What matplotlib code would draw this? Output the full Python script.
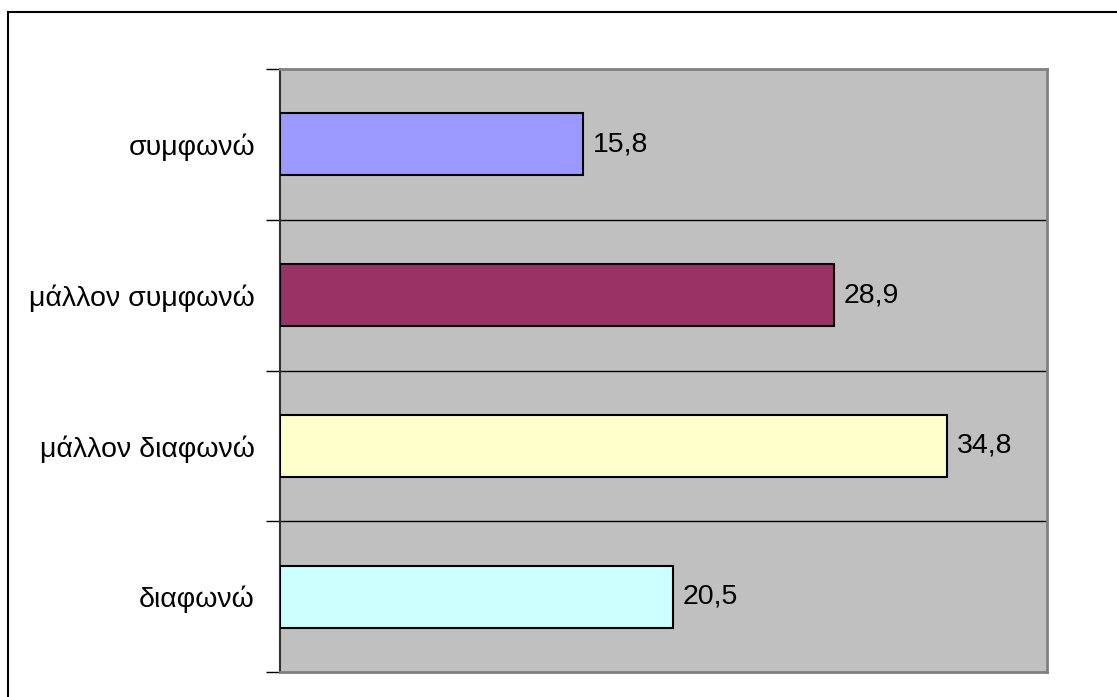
import matplotlib.pyplot as plt
from matplotlib.patches import Rectangle

# answer categories, top to bottom
categories = ['συμφωνώ', 'μάλλον συμφωνώ', 'μάλλον διαφωνώ', 'διαφωνώ']
values = [15.8, 28.9, 34.8, 20.5]
colors = ['#9999FF', '#993366', '#FFFFCC', '#CCFFFF']

plt.rcParams['font.family'] = ['Liberation Sans', 'DejaVu Sans']

W, H = 1117, 697
fig = plt.figure(figsize=(W / 100, H / 100), dpi=100)

# outer chart border (right and bottom run off the picture)
fig.patches.append(Rectangle((8 / W, -0.1), 2, (H - 12) / H + 0.1,
                             transform=fig.transFigure, fill=False,
                             edgecolor='black', linewidth=1.5))

ax = fig.add_axes([280 / W, (H - 672) / H, 767 / W, 603 / H])
ax.set_facecolor('#C0C0C0')

y = list(range(len(categories)))
bars = ax.barh(y, values, height=0.41, color=colors,
               edgecolor='black', linewidth=1.5, zorder=3)
ax.bar_label(bars, labels=[f'{v:.1f}'.replace('.', ',') for v in values],
             padding=7, fontsize=20.5)

ax.set_xlim(0, 40)
ax.set_ylim(len(categories) - 0.5, -0.5)
ax.set_xticks([])

ax.set_yticks(y)
ax.set_yticklabels(categories, fontsize=20.5)
ax.tick_params(axis='y', which='major', length=0, pad=18)
bounds = [i - 0.5 for i in range(len(categories) + 1)]
ax.set_yticks(bounds, minor=True)
ax.tick_params(axis='y', which='minor', length=10, width=1, color='black')

for b in bounds[1:-1]:
    ax.axhline(b, color='black', linewidth=1, zorder=2)

for side in ['top', 'right', 'bottom']:
    ax.spines[side].set_color('#808080')
    ax.spines[side].set_linewidth(2)
ax.spines['left'].set_color('#333333')
ax.spines['left'].set_linewidth(1.5)

plt.savefig('out.png', dpi=100)
